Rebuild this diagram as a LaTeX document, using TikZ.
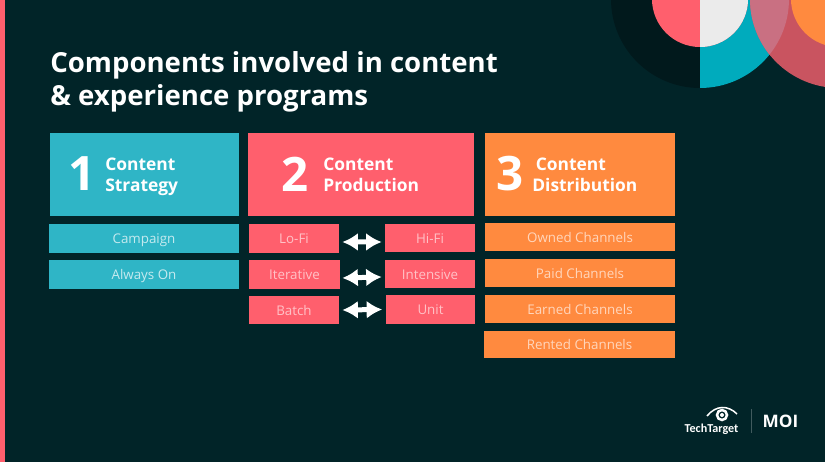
\documentclass[tikz,border=0pt]{standalone}
\usepackage{fontspec}
\setmainfont{Open Sans}
\newfontfamily\logofont{Carlito}
\usetikzlibrary{arrows.meta}
\definecolor{bgdark}{HTML}{012428}
\definecolor{ringdark}{HTML}{01191C}
\definecolor{tealbox}{HTML}{2FB5C6}
\definecolor{redbox}{HTML}{FF5F6D}
\definecolor{orangebox}{HTML}{FF8A3F}
\definecolor{tealring}{HTML}{00ABBD}
\definecolor{mixred}{HTML}{C95460}
\definecolor{mixpink}{HTML}{C97082}
\begin{document}
\begin{tikzpicture}[x=0.02cm, y=-0.02cm]
\tikzset{headbox/.style={minimum height=1.66cm, inner sep=0pt},
  smallbox/.style={minimum height=0.57cm, inner sep=0pt, text height=7.7pt, text depth=2pt, font=\fontsize{7.6}{8}\selectfont},
  tealitem/.style={smallbox, fill=tealbox, text=white!72!tealbox, minimum width=3.8cm},
  reditem/.style={smallbox, fill=redbox, text=white!62!redbox, minimum width=1.8cm},
  orangeitem/.style={smallbox, fill=orangebox, text=white!65!orangebox, minimum width=3.8cm, minimum height=0.56cm},
  bignum/.style={text=white, font=\fontsize{27}{27}\selectfont\bfseries, inner sep=0pt},
  headtext/.style={text=white, align=left, anchor=west, inner sep=0pt,
    font=\fontsize{9.9}{12}\selectfont\bfseries},
  dblarrow/.style={draw=white, line width=0.1cm, {Latex[length=0.31cm,width=0.36cm]}-{Latex[length=0.31cm,width=0.36cm]}}}
% background
\fill[bgdark] (0,0) rectangle (825,462);
\fill[redbox] (0,0) rectangle (5,462);
% circles top right
\begin{scope}
\clip (0,0) rectangle (825,462);
\fill[ringdark] (700,-1) circle (89);
\begin{scope}
\clip (700,-1) rectangle (825,100);
\fill[tealring] (700,-1) circle (89);
\end{scope}
\fill[redbox] (700,-1) circle (48);
\begin{scope}
\clip (700,-1) rectangle (760,60);
\fill[black!8] (700,-1) circle (48);
\end{scope}
\fill[mixred] (839,-1) circle (89);
\begin{scope}
\clip (700,-1) circle (89);
\fill[mixpink] (839,-1) circle (89);
\end{scope}
\fill[orangebox] (839,-1) circle (48);
\end{scope}
% title
\node[anchor=west, align=left, text=white, inner sep=0pt, font=\fontsize{15.7}{18.8}\selectfont\bfseries] (title) at (50,82)
  {Components involved in content\\\& experience programs};
% strategy
\node[headbox, fill=tealbox, minimum width=3.78cm] (strategy) at (144.5,174.5) {};
\node[bignum] (num1) at (82,174) {1};
\node[headtext] (strategytext) at (105,177) {Content\\Strategy};
\node[tealitem] (campaign) at (144,238.5) {Campaign};
\node[tealitem] (always) at (144,274.5) {Always On};
% production
\node[headbox, fill=redbox, minimum width=4.52cm] (production) at (361,174.5) {};
\node[bignum] (num2) at (295,174) {2};
\node[headtext] (productiontext) at (323,175) {Content\\Production};
\node[reditem] (lofi) at (294,238.5) {Lo-Fi};
\node[reditem] (hifi) at (430,238) {Hi-Fi};
\node[reditem, minimum width=1.82cm] (iterative) at (294.5,274.5) {Iterative};
\node[reditem] (intensive) at (430,274) {Intensive};
\node[reditem] (batch) at (294,310) {Batch};
\node[reditem] (unit) at (430.5,309.5) {Unit};
\draw[dblarrow] ([xshift=0.06cm,yshift=-0.07cm]lofi.east) -- ([xshift=-0.06cm,yshift=-0.08cm]hifi.west);
\draw[dblarrow] ([xshift=0.04cm,yshift=-0.07cm]iterative.east) -- ([xshift=-0.06cm,yshift=-0.06cm]intensive.west);
\draw[dblarrow] ([xshift=0.06cm,yshift=0]batch.east) -- ([xshift=-0.06cm,yshift=0]unit.west);
% distribution
\node[headbox, fill=orangebox, minimum width=3.8cm] (distribution) at (580,174.5) {};
\node[bignum] (num3) at (510,174) {3};
\node[headtext] (distributiontext) at (532,175) {\hspace*{2pt}Content\\Distribution};
\node[orangeitem] (owned) at (580,237) {Owned Channels};
\node[orangeitem] (paid) at (580,273) {Paid Channels};
\node[orangeitem] (earned) at (580,309) {Earned Channels};
\node[orangeitem, minimum width=3.82cm] (rented) at (579.5,344.5) {Rented Channels};
% logos
\draw[white, line width=0.03cm] (707,416) .. controls (716,405) and (728,405) .. (737,414);
\draw[white, line width=0.05cm] (722,415) circle (5);
\fill[white] (722,415) circle (2);
\node[text=white, inner sep=0pt, font=\logofont\fontsize{6.9}{8}\selectfont\bfseries] (techtarget) at (711.5,429.5) {TechTarget};
\draw[white!25!bgdark, line width=0.01cm] (751.5,409) -- (751.5,433);
\node[text=white, inner sep=0pt, font=\fontsize{9.8}{11}\selectfont\bfseries] (moi) at (780.5,421) {MOI};
\end{tikzpicture}
\end{document}
